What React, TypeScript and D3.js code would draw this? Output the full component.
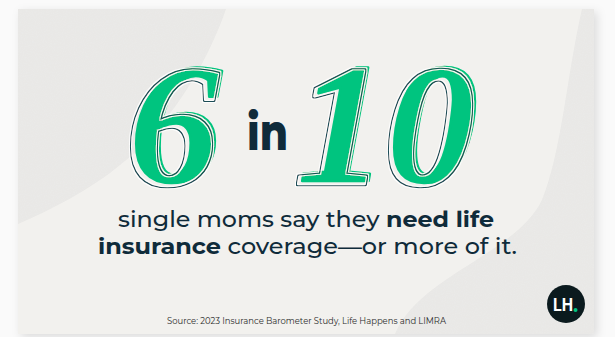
import React from "react";
import * as d3 from "d3";

const statValues = ["6", "10"];
const connector = "in";
const line1 = [
  { t: "single moms say they ", bold: false },
  { t: "need life", bold: true },
];
const line2 = [
  { t: "insurance", bold: true },
  { t: " coverage—or more of it.", bold: false },
];
const sourceText = "Source: 2023 Insurance Barometer Study, Life Happens and LIMRA";
const logoText = "LH";

const W = 615;
const H = 337;
const GREEN = "#00c47f";
const NAVY = "#0f2b3a";
const CARD = "#f2f1ee";

export default function App() {
  const card = { x: 18, y: 9, w: 576, h: 325 };
  const sx = d3.scaleLinear().domain([0, 1]).range([card.x, card.x + card.w]);
  const sy = d3.scaleLinear().domain([0, 1]).range([card.y, card.y + card.h]);

  const leftBlob = d3.path();
  leftBlob.moveTo(sx(0), sy(0));
  leftBlob.lineTo(226, sy(0));
  leftBlob.bezierCurveTo(205, 70, 165, 130, 120, 165);
  leftBlob.bezierCurveTo(90, 190, 50, 210, sx(0), 224);
  leftBlob.closePath();

  const rightBlob = d3.path();
  rightBlob.moveTo(sx(1), sy(0));
  rightBlob.lineTo(582, sy(0));
  rightBlob.bezierCurveTo(566, 80, 562, 150, 542, 200);
  rightBlob.bezierCurveTo(515, 255, 420, 275, 395, sy(1));
  rightBlob.lineTo(sx(1), sy(1));
  rightBlob.closePath();

  const digitFont = "'Liberation Serif', 'DejaVu Serif', serif";
  const sansFont = "Montserrat, 'Open Sans', Lato, sans-serif";

  const bigDigit = (txt: string, x: number, len: number, key: string) => (
    <text key={key} x={x} y={181} fontFamily={digitFont} fontWeight={700} fontStyle="italic" fontSize={172}
      fill={GREEN} stroke={GREEN} strokeWidth={2.5} strokeLinejoin="round"
      textLength={len} lengthAdjust="spacingAndGlyphs" filter="url(#outline)">{txt}</text>
  );

  return (
    <svg width={W} height={H} style={{ position: "absolute", left: 0, top: 0, background: "#fafafa" }}>
      <defs>
        <filter id="shadow" x="-10%" y="-10%" width="120%" height="130%">
          <feDropShadow dx="3" dy="3" stdDeviation="5" floodColor="#000" floodOpacity="0.12" />
        </filter>
        <filter id="grain" x="0" y="0" width="100%" height="100%">
          <feTurbulence type="fractalNoise" baseFrequency="0.9" numOctaves="2" seed="3" result="n" />
          <feColorMatrix in="n" type="matrix"
            values="0 0 0 0 0.82  0 0 0 0 0.82  0 0 0 0 0.81  0 0 0 -2.2 1.3" result="c" />
          <feComposite in="c" in2="SourceGraphic" operator="in" result="g" />
          <feMerge>
            <feMergeNode in="SourceGraphic" />
            <feMergeNode in="g" />
          </feMerge>
        </filter>
        <filter id="outline" x="-20%" y="-20%" width="140%" height="140%">
          <feOffset in="SourceAlpha" dx="-4" dy="3" result="off" />
          <feMorphology in="off" operator="dilate" radius="0.9" result="d1" />
          <feComposite in="d1" in2="off" operator="out" result="ring" />
          <feMorphology in="off" operator="dilate" radius="2.2" result="d2" />
          <feComposite in="d2" in2="d1" operator="out" result="halo1" />
          <feMorphology in="off" operator="erode" radius="1.2" result="e1" />
          <feComposite in="off" in2="e1" operator="out" result="halo2a" />
          <feComposite in="halo2a" in2="ring" operator="out" result="halo2" />
          <feFlood floodColor="#1d4d57" result="dk" />
          <feComposite in="dk" in2="ring" operator="in" result="darkRing" />
          <feFlood floodColor="#ffffff" floodOpacity="0.9" result="wh" />
          <feComposite in="wh" in2="halo1" operator="in" result="w1" />
          <feComposite in="wh" in2="halo2" operator="in" result="w2" />
          <feMerge>
            <feMergeNode in="SourceGraphic" />
            <feMergeNode in="w1" />
            <feMergeNode in="w2" />
            <feMergeNode in="darkRing" />
          </feMerge>
        </filter>
        <clipPath id="cardclip">
          <rect x={card.x} y={card.y} width={card.w} height={card.h} />
        </clipPath>
      </defs>
      <rect x={card.x} y={card.y} width={card.w} height={card.h} fill={CARD} filter="url(#shadow)" />
      <g clipPath="url(#cardclip)">
        <path d={leftBlob.toString()} fill="#e9e8e6" filter="url(#grain)" />
        <path d={rightBlob.toString()} fill="#e9e8e6" filter="url(#grain)" />
      </g>

      {bigDigit(statValues[0], 130, 92, "d0")}
      {bigDigit(statValues[1], 298, 180, "d1")}

      <text x={247} y={150} fontFamily={sansFont} fontWeight={800} fontSize={50} fill={NAVY}
        textLength={41} lengthAdjust="spacingAndGlyphs">{connector}</text>

      <text x={118} y={227} fontFamily={sansFont} fontSize={21.5} fill={NAVY}
        textLength={376} lengthAdjust="spacingAndGlyphs">
        {line1.map((s, i) => (
          <tspan key={i} fontWeight={s.bold ? 700 : 500}>{s.t}</tspan>
        ))}
      </text>
      <text x={98} y={254} fontFamily={sansFont} fontSize={21.5} fill={NAVY}
        textLength={419} lengthAdjust="spacingAndGlyphs">
        {line2.map((s, i) => (
          <tspan key={i} fontWeight={s.bold ? 700 : 500}>{s.t}</tspan>
        ))}
      </text>

      <text x={167} y={324} fontFamily={sansFont} fontSize={9} fill="#2b2b2b"
        textLength={279} lengthAdjust="spacingAndGlyphs">{sourceText}</text>

      <circle cx={566} cy={304} r={19} fill="#0b1a1e" />
      <text x={553} y={311} fontFamily="'Liberation Sans Narrow', Roboto, sans-serif" fontWeight={700}
        fontSize={19} fill="#ffffff" textLength={20} lengthAdjust="spacingAndGlyphs">{logoText}</text>
      <circle cx={575.5} cy={310} r={2} fill={GREEN} />
    </svg>
  );
}
